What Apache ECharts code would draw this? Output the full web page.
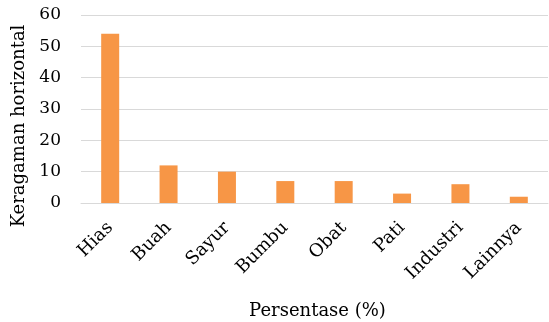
<!DOCTYPE html>
<html><head><meta charset="utf-8">
<script src="https://cdn.jsdelivr.net/npm/echarts@6/dist/echarts.min.js"></script>
<style>html,body{margin:0;padding:0;background:#fff}#c{width:549px;height:322px}</style>
</head><body><div id="c"></div>
<script>
const categories = ["Hias","Buah","Sayur","Bumbu","Obat","Pati","Industri","Lainnya"];
const values = [54,12,10,7,7,3,6,2];
const yTicks = {min:0,max:60,interval:10};
const FONT = "DejaVu Serif";
const chart = echarts.init(document.getElementById('c'));
chart.setOption({
  animation:false,
  grid:{left:81,right:1,top:15,bottom:119,containLabel:false,outerBoundsMode:'none'},
  xAxis:{type:'category',data:categories,
    name:'Persentase (%)',nameLocation:'middle',nameGap:99,
    nameTextStyle:{fontFamily:FONT,fontSize:18,color:'#000',padding:[0,0,0,6]},
    axisLine:{show:true,lineStyle:{color:'#D9D9D9',width:1}},
    axisTick:{show:false},
    axisLabel:{rotate:45,fontFamily:FONT,fontSize:18,color:'#000',margin:22,interval:0}},
  yAxis:{type:'value',min:yTicks.min,max:yTicks.max,interval:yTicks.interval,
    name:'Keragaman horizontal',nameLocation:'middle',nameGap:53,
    nameTextStyle:{fontFamily:FONT,fontSize:18,color:'#000',padding:[0,34,0,0]},
    axisLine:{show:false},axisTick:{show:false},
    axisLabel:{fontFamily:FONT,fontSize:17,color:'#000',margin:20},
    splitLine:{lineStyle:{color:'#D9D9D9',width:1}}},
  series:[{type:'bar',data:values,barWidth:18,itemStyle:{color:'#F79646'}}]
});
</script></body></html>
